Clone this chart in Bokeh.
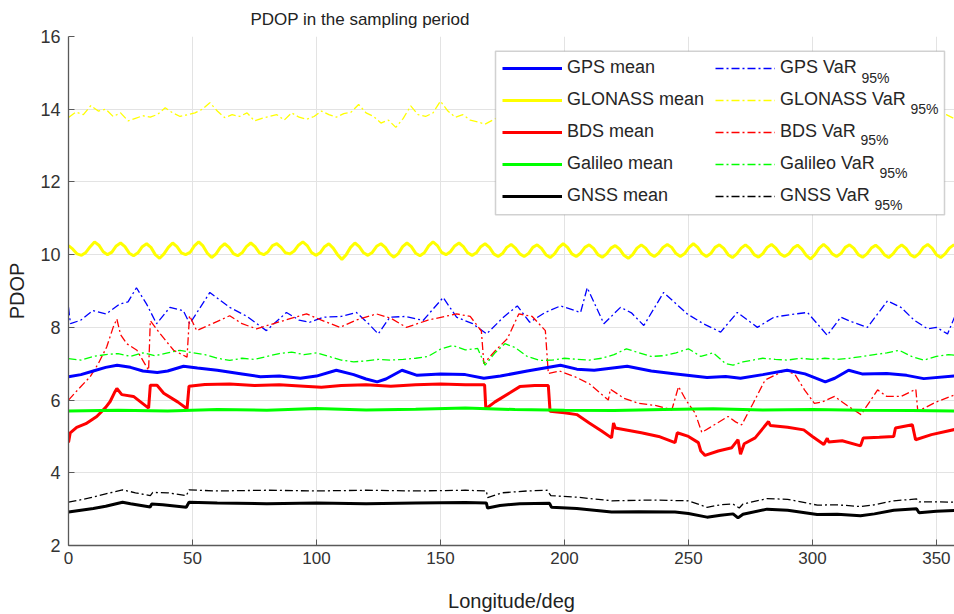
from bokeh.plotting import figure
from bokeh.models import Legend, LegendItem, Label, FixedTicker, Range1d, BoxAnnotation
from bokeh.embed import file_html
from bokeh.resources import INLINE

# ---------------- data ----------------
gps_mean_x = [0, 5, 10, 15, 19.6, 25, 30, 35.8, 40, 46.4, 52, 60, 70, 77.4, 85, 93.5, 100, 108, 115, 120,
              124.5, 128, 134.5, 140.6, 150, 160, 167.5, 174.2, 185, 198.4, 205, 212, 225.3, 235, 245,
              257.5, 265, 271, 280, 289.8, 297, 305.2, 309, 314.6, 320, 330, 338, 344.9, 357.3, 360]
gps_mean_y = [6.64, 6.7, 6.8, 6.9, 6.96, 6.9, 6.8, 6.76, 6.8, 6.93, 6.88, 6.82, 6.72, 6.64, 6.66, 6.6, 6.66,
              6.82, 6.7, 6.58, 6.5, 6.58, 6.82, 6.68, 6.72, 6.7, 6.6, 6.66, 6.8, 6.96, 6.85, 6.82, 6.93, 6.8,
              6.72, 6.62, 6.65, 6.6, 6.7, 6.82, 6.72, 6.5, 6.6, 6.82, 6.72, 6.73, 6.68, 6.59, 6.66, 6.68]

gps_var_x = [0, 0.8, 5, 9.8, 15.2, 20.6, 24, 27.4, 31.5, 35.5, 40.9, 46.3, 48.9, 57, 65, 72, 79.8, 87.9, 93,
             97.3, 102.7, 110, 116.1, 121, 124.9, 129.6, 136, 143, 151.1, 156.5, 163, 168.6, 175.4, 181, 186,
             192, 198.4, 206.5, 209.2, 215.9, 222.6, 227, 232, 240, 249.5, 256, 263, 269.7, 277.8, 284.5, 291,
             298, 306, 311.4, 316, 322.2, 330.3, 335.7, 341, 346.4, 350, 354.5, 357.3, 360]
gps_var_y = [8.55, 8.1, 8.2, 8.46, 8.37, 8.64, 8.7, 9.09, 8.64, 8.1, 8.55, 8.46, 8.1, 8.96, 8.55, 8.3, 7.91,
             8.41, 8.2, 8.14, 8.28, 8.3, 8.41, 8.1, 7.82, 8.28, 8.3, 8.19, 8.82, 8.28, 8.1, 7.82, 8.28, 8.59,
             8.14, 8.4, 8.59, 8.41, 9.09, 8.1, 8.55, 8.4, 8.05, 8.96, 8.37, 8.1, 7.87, 8.41, 8.0, 8.28, 8.35,
             8.41, 7.78, 8.28, 8.15, 8.0, 8.73, 8.55, 8.2, 7.96, 8.0, 7.82, 8.28, 8.3]

glo_mean_y = [
    10.25, 10.15, 10.02, 9.98, 10.06, 10.22,
    10.35, 10.26, 10.08, 10.0, 10.07, 10.24,
    10.32, 10.22, 10.04, 9.97, 10.05, 10.22,
    10.3, 10.2, 10.0, 9.9, 10.02, 10.2,
    10.32, 10.22, 10.05, 10.0, 10.06, 10.24,
    10.35, 10.24, 10.04, 9.92, 10.02, 10.2,
    10.3, 10.2, 10.03, 9.97, 10.05, 10.22,
    10.32, 10.22, 10.05, 10.0, 10.08, 10.25,
    10.3, 10.2, 10.05, 10.02, 10.1, 10.26,
    10.35, 10.25, 10.06, 9.98, 10.05, 10.22,
    10.3, 10.18, 10.0, 9.87, 10.0, 10.2,
    10.32, 10.22, 10.05, 9.98, 10.06, 10.23,
    10.3, 10.2, 10.02, 9.93, 10.03, 10.22,
    10.32, 10.22, 10.04, 9.97, 10.05, 10.24,
    10.35, 10.25, 10.06, 10.0, 10.08, 10.24,
    10.32, 10.22, 10.05, 9.98, 10.05, 10.22,
    10.3, 10.2, 10.02, 9.95, 10.03, 10.2,
    10.28, 10.18, 10.02, 9.95, 10.03, 10.2,
    10.27, 10.17, 10.0, 9.92, 10.02, 10.2,
    10.3, 10.2, 10.02, 9.95, 10.04, 10.2,
    10.27, 10.17, 10.0, 9.93, 10.02, 10.18,
    10.25, 10.15, 9.98, 9.9, 10.0, 10.18,
    10.27, 10.18, 10.02, 9.95, 10.04, 10.2,
    10.28, 10.2, 10.03, 9.95, 10.03, 10.2,
    10.3, 10.2, 10.03, 9.95, 10.03, 10.2,
    10.27, 10.17, 10.0, 9.92, 10.02, 10.18,
    10.27, 10.17, 10.0, 9.93, 10.03, 10.2,
    10.28, 10.18, 10.02, 9.95, 10.02, 10.18,
    10.26, 10.15, 9.98, 9.88, 10.0, 10.18,
    10.28, 10.18, 10.02, 9.95, 10.03, 10.2,
    10.27, 10.17, 10.0, 9.93, 10.02, 10.18,
    10.26, 10.16, 10.0, 9.92, 10.02, 10.18,
    10.27, 10.17, 10.0, 9.93, 10.03, 10.2,
    10.28, 10.18, 10.0, 9.92, 10.02, 10.18,
    10.27, 10.18, 10.02]
glo_mean_step = 1.75
glo_mean_x = [i * glo_mean_step for i in range(len(glo_mean_y))]

glo_var_y = [
    13.77, 13.92, 13.85, 14.1, 13.95, 14.0, 13.8, 13.9, 13.68, 13.75, 13.82, 13.78, 13.86, 14.04, 13.9,
    13.8, 13.85, 13.9, 14.0, 14.18, 13.95, 13.77, 13.85, 13.8, 13.9, 13.68, 13.75, 13.8, 13.85, 13.7,
    13.9, 13.78, 13.72, 13.8, 13.95, 13.85, 13.78, 13.88, 13.92, 14.13, 13.9, 13.8, 13.62, 13.7, 13.5,
    13.75, 14.09, 13.85, 13.8, 13.9, 14.22, 13.95, 13.78, 13.85, 13.7, 13.65, 13.59, 13.7, 13.8, 13.75,
    13.85, 13.9, 13.8, 13.75, 13.9, 14.0, 13.85, 13.7, 13.8, 13.9, 13.78, 13.85, 13.95, 13.8, 13.7,
    13.75, 13.9, 13.85, 14.05, 13.9, 13.8, 13.75, 13.85, 13.7, 13.8, 13.9, 13.95, 13.8, 13.75, 13.85,
    13.9, 13.8, 13.7, 13.85, 13.95, 13.8, 13.75, 13.9, 13.85, 13.8, 13.7, 13.75, 13.85, 13.9, 13.8,
    13.75, 13.7, 13.8, 13.85, 13.9, 13.75, 13.7, 13.8, 13.85, 13.75, 13.78, 13.72, 13.8, 13.85, 13.75,
    13.8]
glo_var_step = 3
glo_var_x = [i * glo_var_step for i in range(len(glo_var_y))]

bds_mean_x = [0, 0.7, 3.3, 7, 11.4, 15, 16.8, 18.5, 19.5, 21.5, 26.2, 32.3, 33.0, 35.7, 38.4, 44, 47.8, 48.6,
              55, 65, 75, 85, 95, 102, 110, 120, 130, 140, 150, 160, 167.8, 168.3, 172, 178, 182, 188, 193.5,
              194.2, 200, 205, 210, 215, 219, 219.8, 220.5, 231, 238, 244.6, 245.5, 250, 254, 255, 256.7, 262,
              267.5, 270, 271, 272.5, 276.9, 282.3, 283, 290, 296.5, 300, 304.6, 306, 306.5, 312, 319.4, 320.5,
              327, 332.8, 333.5, 340.3, 341.6, 348, 357.3, 360]
bds_mean_y = [4.83, 5.1, 5.25, 5.35, 5.55, 5.8, 5.96, 6.2, 6.32, 6.15, 6.1, 5.78, 6.41, 6.41, 6.19, 5.95, 5.76,
              6.38, 6.43, 6.44, 6.4, 6.42, 6.38, 6.35, 6.4, 6.42, 6.38, 6.42, 6.44, 6.42, 6.42, 5.76, 5.95, 6.2,
              6.37, 6.4, 6.4, 5.69, 5.65, 5.6, 5.37, 5.15, 4.96, 5.37, 5.23, 5.1, 5.0, 4.83, 5.1, 5.0, 4.83, 4.6,
              4.48, 4.6, 4.69, 4.91, 4.51, 4.8, 4.96, 5.41, 5.3, 5.25, 5.18, 5.0, 4.78, 4.95, 4.85, 4.88, 4.74,
              4.96, 4.98, 5.0, 5.23, 5.32, 4.91, 5.05, 5.19, 5.2]

bds_var_x = [0, 4, 8.7, 12, 15.4, 18, 19.5, 21, 23.5, 27.6, 32.3, 33, 37, 42.4, 47.8, 48.8, 51.7, 58, 65, 70,
             75.8, 85, 96, 102, 109.4, 116, 124.2, 130, 136.3, 145, 156.5, 162, 166.5, 167.5, 172, 177, 181.6,
             187, 192.3, 193.5, 198, 204.3, 210, 217.7, 218.5, 224, 229.8, 237, 243.3, 246, 249, 252.7, 255.4,
             260, 266, 269, 271.5, 276, 280.9, 289, 293, 296.8, 300.8, 304, 308.9, 314, 319.6, 326.3, 330,
             335.7, 341.7, 342.5, 350, 357.3, 360]
bds_var_y = [6.0, 6.3, 6.64, 7.0, 7.46, 8.0, 8.23, 7.8, 7.55, 7.37, 6.82, 8.18, 7.82, 7.37, 7.18, 8.32, 7.91,
             8.1, 8.32, 8.1, 7.96, 8.15, 8.37, 8.2, 8.0, 8.2, 8.37, 8.25, 8.0, 8.2, 8.37, 8.3, 7.9, 7.0, 7.35,
             7.69, 8.37, 8.3, 7.91, 6.73, 6.8, 6.64, 6.45, 6.0, 6.3, 6.05, 5.91, 5.85, 5.73, 6.37, 6.0, 5.64,
             5.11, 5.3, 5.55, 5.4, 5.32, 5.9, 6.55, 6.82, 6.7, 6.28, 5.91, 5.95, 6.1, 5.85, 5.6, 6.28, 6.1,
             6.1, 6.3, 5.69, 5.95, 6.14, 6.15]

gal_mean_x = [0, 20, 40, 60, 80, 100, 120, 140, 160, 180, 200, 220, 240, 260, 280, 300, 320, 340, 360]
gal_mean_y = [5.7, 5.72, 5.7, 5.74, 5.72, 5.77, 5.73, 5.75, 5.78, 5.74, 5.72, 5.71, 5.74, 5.76, 5.73, 5.74,
              5.72, 5.71, 5.7]

gal_var_x = [0, 5, 10, 15, 20, 25, 30, 35, 40, 45, 50, 55, 60, 65, 70, 75, 80, 85, 90, 95, 100, 105, 110,
             115, 120, 125, 130, 135, 140, 145, 150, 155, 160, 165, 168, 172, 176, 180, 185, 190, 195, 200,
             205, 210, 215, 220, 225, 230, 235, 240, 245, 250, 255, 260, 265, 268, 272, 280, 285, 290, 295,
             300, 305, 310, 315, 320, 325, 330, 335, 340, 345, 350, 355, 360]
gal_var_y = [7.14, 7.1, 7.2, 7.25, 7.28, 7.2, 7.3, 7.22, 7.3, 7.37, 7.3, 7.25, 7.15, 7.09, 7.15, 7.12, 7.2,
             7.28, 7.32, 7.25, 7.3, 7.2, 7.1, 7.05, 7.08, 7.12, 7.1, 7.12, 7.15, 7.2, 7.4, 7.5, 7.38, 7.42,
             6.96, 7.3, 7.55, 7.45, 7.2, 7.09, 7.1, 7.15, 7.12, 7.1, 7.15, 7.25, 7.41, 7.3, 7.2, 7.22, 7.3,
             7.41, 7.2, 7.3, 7.0, 6.96, 7.05, 7.15, 7.12, 7.1, 7.15, 7.12, 7.15, 7.12, 7.15, 7.2, 7.25, 7.3,
             7.37, 7.2, 7.1, 7.2, 7.25, 7.22]

gnss_mean_x = [0, 5, 10, 15, 21.8, 25, 33, 33.5, 38, 47.5, 48.6, 60, 80, 100, 120, 140, 160, 168.5, 169, 174,
               182, 194, 194.8, 205, 219, 230, 244.6, 250, 257.5, 263, 268, 270, 272, 281.7, 290, 301.9, 310,
               319.4, 325, 332.8, 342, 343, 350, 360]
gnss_mean_y = [2.92, 2.97, 3.02, 3.08, 3.19, 3.15, 3.06, 3.14, 3.12, 3.05, 3.19, 3.17, 3.15, 3.17, 3.15,
               3.17, 3.18, 3.17, 3.03, 3.1, 3.15, 3.16, 3.05, 3.02, 2.92, 2.93, 2.92, 2.88, 2.78, 2.83, 2.87,
               2.76, 2.86, 3.0, 2.97, 2.85, 2.86, 2.82, 2.87, 2.97, 3.01, 2.9, 2.94, 2.97]

gnss_var_x = [0, 8, 15, 21.8, 27, 33, 34, 40, 47.5, 48.6, 60, 80, 100, 120, 140, 160, 168.5, 169, 175, 185,
              193, 194.5, 205, 219, 235, 250, 257.5, 263, 268, 270.5, 272, 281.7, 290, 302, 310, 319.4, 325,
              332.8, 342, 343, 350, 360]
gnss_var_y = [3.19, 3.3, 3.42, 3.53, 3.45, 3.37, 3.46, 3.45, 3.37, 3.53, 3.5, 3.52, 3.5, 3.52, 3.5, 3.52,
              3.5, 3.32, 3.45, 3.5, 3.52, 3.37, 3.33, 3.23, 3.25, 3.23, 3.05, 3.12, 3.14, 3.03, 3.14, 3.29,
              3.27, 3.11, 3.12, 3.07, 3.12, 3.23, 3.28, 3.2, 3.2, 3.19]

systems = ["GPS", "GLONASS", "BDS", "Galileo", "GNSS"]
colors = ["#0000ff", "#ffff00", "#ff0000", "#00ff00", "#000000"]
mean_series = [(gps_mean_x, gps_mean_y), (glo_mean_x, glo_mean_y), (bds_mean_x, bds_mean_y),
               (gal_mean_x, gal_mean_y), (gnss_mean_x, gnss_mean_y)]
var_series = [(gps_var_x, gps_var_y), (glo_var_x, glo_var_y), (bds_var_x, bds_var_y),
              (gal_var_x, gal_var_y), (gnss_var_x, gnss_var_y)]

x_ticks = [0, 50, 100, 150, 200, 250, 300, 350]
y_ticks = [2, 4, 6, 8, 10, 12, 14, 16]

# ---------------- figure ----------------
FONT = "Liberation Sans"
FRAME_L, FRAME_R, FRAME_T, FRAME_B = 68, 954, 33, 547
X_END = 357.3
W, H = 954, 614
p = figure(width=W, height=H, output_backend="svg", toolbar_location=None,
           x_range=Range1d(0, X_END), y_range=Range1d(2, 16),
           min_border_left=FRAME_L, min_border_right=W - FRAME_R,
           min_border_top=FRAME_T, min_border_bottom=H - FRAME_B)
p.outline_line_color = None
p.background_fill_color = "white"

p.title.text = "PDOP in the sampling period"
p.title.text_font = FONT
p.title.text_font_size = "17px"
p.title.text_font_style = "normal"
p.title.text_color = "#222222"
p.title.align = "left"
p.title.offset = 182
p.title.standoff = 15

for ax in (p.xaxis[0], p.yaxis[0]):
    ax.axis_line_color = "#595959"
    ax.axis_line_width = 1.3
    ax.major_tick_line_color = "#595959"
    ax.major_tick_in = 6
    ax.major_tick_out = 0
    ax.minor_tick_line_color = None
    ax.major_label_text_font = FONT
    ax.major_label_text_color = "#333333"
    ax.axis_label_text_font = FONT
    ax.axis_label_text_font_style = "normal"
    ax.axis_label_text_color = "#222222"

p.xaxis.ticker = FixedTicker(ticks=x_ticks)
p.yaxis.ticker = FixedTicker(ticks=y_ticks)
p.xaxis.major_label_text_font_size = "17px"
p.yaxis.major_label_text_font_size = "18px"
p.xaxis.major_label_standoff = 6
p.yaxis.major_label_standoff = 8
p.xaxis.axis_label = "Longitude/deg"
p.yaxis.axis_label = "PDOP"
p.xaxis.axis_label_text_font_size = "20px"
p.yaxis.axis_label_text_font_size = "20px"
p.xaxis.axis_label_standoff = 23
p.yaxis.axis_label_standoff = 9

p.xgrid.ticker = FixedTicker(ticks=x_ticks)
p.ygrid.ticker = FixedTicker(ticks=y_ticks)
p.grid.grid_line_color = "#e3e3e3"
p.grid.grid_line_width = 1

mean_items, var_items = [], []
for name, col, (mx, my), (vx, vy) in zip(systems, colors, mean_series, var_series):
    rv = p.line(vx, vy, line_color=col, line_width=1.3, line_dash="8 3 2 3")
    var_items.append((name, rv))
for name, col, (mx, my), (vx, vy) in zip(systems, colors, mean_series, var_series):
    rm = p.line(mx, my, line_color=col, line_width=3)
    mean_items.append((name, rm))

def px2x(px):
    return (px - FRAME_L) * X_END / (FRAME_R - FRAME_L)
def py2y(py):
    return 2 + (FRAME_B - py) * 14 / (FRAME_B - FRAME_T)

# opaque legend box (drawn beneath a transparent legend so the subscripts can sit on top)
LEG_L, LEG_R, LEG_T, LEG_B = 495, 944, 48, 213
p.add_layout(BoxAnnotation(left=px2x(LEG_L), right=px2x(LEG_R), top=py2y(LEG_T), bottom=py2y(LEG_B),
                           fill_color="white", fill_alpha=1.0, line_color="#666666", line_width=1.5,
                           level="annotation", editable=False))

items = [LegendItem(label=f"{n} mean", renderers=[r]) for n, r in mean_items]
items += [LegendItem(label=f"{n} VaR      ", renderers=[r]) for n, r in var_items]
legend = Legend(items=items, ncols=2, location=(LEG_L - FRAME_L + 7, FRAME_B - LEG_B + 5),
                label_text_font=FONT, label_text_font_size="18px", label_text_color="#262626",
                glyph_width=60, glyph_height=20, label_standoff=5, spacing=11, padding=8, margin=0,
                border_line_color=None, background_fill_alpha=0.0)
p.add_layout(legend)

# subscripts "95%" of the legend labels
col2_text_px = 782
row_center_py = [66.7, 98, 129.5, 163, 195]
label_end_offsets = [78, 127, 77, 96, 91]
for rc, off in zip(row_center_py, label_end_offsets):
    p.add_layout(Label(x=px2x(col2_text_px + off + 1), y=py2y(rc + 8), text="95%",
                       text_font=FONT, text_font_size="14px", text_color="#262626",
                       text_baseline="middle", text_align="left", level="overlay"))

open("out.html", "w").write(file_html(p, INLINE))
